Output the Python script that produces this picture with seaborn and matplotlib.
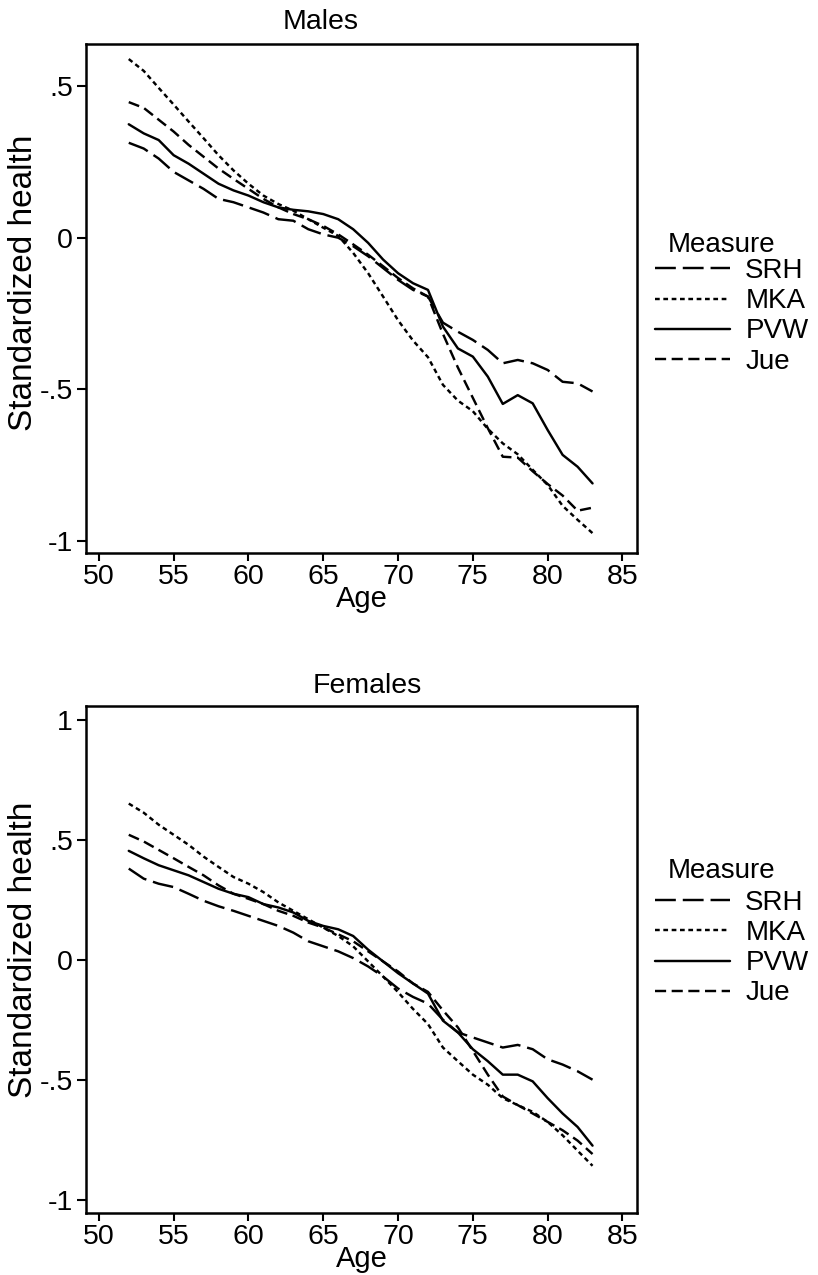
import matplotlib
matplotlib.use("Agg")
import matplotlib.pyplot as plt
import seaborn as sns
import pandas as pd
from matplotlib.lines import Line2D

# ---------------- data ----------------
ages = list(range(52, 84))
measures = ["SRH", "MKA", "PVW", "Jue"]

males_srh = [0.313, 0.294, 0.261, 0.217, 0.189, 0.161, 0.128, 0.117, 0.100, 0.083,
             0.061, 0.056, 0.028, 0.011, 0.000, -0.028, -0.061, -0.100, -0.139, -0.172,
             -0.194, -0.280, -0.310, -0.337, -0.370, -0.414, -0.403, -0.414, -0.436, -0.475,
             -0.480, -0.507]
males_mka = [0.589, 0.550, 0.494, 0.439, 0.383, 0.328, 0.272, 0.222, 0.178, 0.139,
             0.111, 0.089, 0.061, 0.033, 0.006, -0.050, -0.117, -0.194, -0.272, -0.339,
             -0.394, -0.485, -0.537, -0.572, -0.630, -0.678, -0.714, -0.765, -0.815, -0.884,
             -0.930, -0.974]
males_pvw = [0.374, 0.344, 0.322, 0.272, 0.244, 0.211, 0.178, 0.156, 0.139, 0.117,
             0.100, 0.092, 0.087, 0.078, 0.061, 0.028, -0.017, -0.072, -0.117, -0.150,
             -0.172, -0.293, -0.365, -0.392, -0.458, -0.548, -0.519, -0.546, -0.634, -0.716,
             -0.755, -0.810]
males_jue = [0.447, 0.428, 0.389, 0.350, 0.306, 0.267, 0.228, 0.194, 0.161, 0.128,
             0.100, 0.078, 0.061, 0.039, 0.011, -0.022, -0.056, -0.094, -0.133, -0.167,
             -0.194, -0.317, -0.428, -0.528, -0.628, -0.722, -0.725, -0.770, -0.812, -0.850,
             -0.900, -0.890]

females_srh = [0.380, 0.338, 0.317, 0.303, 0.275, 0.246, 0.223, 0.204, 0.183, 0.162,
               0.141, 0.113, 0.077, 0.056, 0.035, 0.007, -0.028, -0.070, -0.120, -0.155,
               -0.183, -0.250, -0.303, -0.324, -0.345, -0.366, -0.355, -0.373, -0.415, -0.437,
               -0.465, -0.500]
females_mka = [0.651, 0.613, 0.563, 0.521, 0.479, 0.430, 0.387, 0.345, 0.317, 0.282,
               0.239, 0.204, 0.169, 0.134, 0.099, 0.056, -0.007, -0.070, -0.135, -0.205,
               -0.268, -0.366, -0.423, -0.479, -0.521, -0.577, -0.606, -0.634, -0.676, -0.732,
               -0.796, -0.859]
females_pvw = [0.454, 0.423, 0.394, 0.373, 0.352, 0.324, 0.296, 0.275, 0.261, 0.232,
               0.218, 0.197, 0.162, 0.141, 0.127, 0.099, 0.042, -0.007, -0.056, -0.099,
               -0.141, -0.254, -0.303, -0.373, -0.423, -0.479, -0.479, -0.507, -0.577, -0.641,
               -0.697, -0.775]
females_jue = [0.521, 0.493, 0.458, 0.423, 0.387, 0.352, 0.310, 0.275, 0.254, 0.232,
               0.204, 0.183, 0.155, 0.134, 0.106, 0.077, 0.035, -0.007, -0.049, -0.099,
               -0.134, -0.211, -0.282, -0.380, -0.479, -0.570, -0.606, -0.641, -0.676, -0.711,
               -0.754, -0.810]

xticks = [50, 55, 60, 65, 70, 75, 80, 85]
xtick_labels = ["50", "55", "60", "65", "70", "75", "80", "85"]
yticks_m = [-1, -0.5, 0, 0.5]
ytick_labels_m = ["-1", "-.5", "0", ".5"]
yticks_f = [-1, -0.5, 0, 0.5, 1]
ytick_labels_f = ["-1", "-.5", "0", ".5", "1"]

# ---------------- style ----------------
sns.set_theme(style="ticks")
plt.rcParams["font.family"] = ["Liberation Sans", "DejaVu Sans"]
plt.rcParams.update({
    "lines.scale_dashes": False,
    "axes.edgecolor": "black",
    "axes.linewidth": 1.8,
    "axes.labelcolor": "black",
    "text.color": "black",
    "xtick.color": "black",
    "ytick.color": "black",
    "xtick.major.width": 1.5,
    "ytick.major.width": 1.5,
    "xtick.major.size": 5.8,
    "ytick.major.size": 6.2,
    "figure.facecolor": "white",
    "axes.facecolor": "white",
})

dash_map = {"SRH": (15, 5), "MKA": (3.4, 2.6), "PVW": "", "Jue": (8, 4)}
LW = 1.75

fig = plt.figure(figsize=(8.18, 12.75), dpi=100)
ax1 = fig.add_axes([0.1051, 0.5659, 0.6736, 0.3992])
ax2 = fig.add_axes([0.1051, 0.0484, 0.6736, 0.3979])


def long_df(srh, mka, pvw, jue):
    rows = []
    for name, vals in zip(measures, [srh, mka, pvw, jue]):
        for a, v in zip(ages, vals):
            rows.append({"Age": a, "Standardized health": v, "Measure": name})
    return pd.DataFrame(rows)


panels = [
    (ax1, long_df(males_srh, males_mka, males_pvw, males_jue), "Males",
     (-1.041, 0.637), yticks_m, ytick_labels_m, 0.4265, 11.0, 0.531, 0.7976, 252),
    (ax2, long_df(females_srh, females_mka, females_pvw, females_jue), "Females",
     (-1.057, 1.058), yticks_f, ytick_labels_f, 0.51, 9.5, 0.519, 0.3020, 878),
]

for ax, df, title, ylim, yt, ytl, tx, tpad, ylab_y, leg_y, title_base in panels:
    sns.lineplot(data=df, x="Age", y="Standardized health", style="Measure",
                 style_order=measures, dashes=dash_map, color="black",
                 linewidth=LW, errorbar=None, legend=False, ax=ax)
    ax.set_xlim(49.14, 85.97)
    ax.set_ylim(*ylim)
    ax.set_xticks(xticks)
    ax.set_xticklabels(xtick_labels)
    ax.set_yticks(yt)
    ax.set_yticklabels(ytl)
    ax.tick_params(axis="x", labelsize=20.5, pad=2)
    ax.tick_params(axis="y", labelsize=20.5, pad=3.3)
    ax.set_xlabel("Age", fontsize=21, labelpad=-3.5)
    ax.set_ylabel("Standardized health", fontsize=24)
    ax.yaxis.set_label_coords(-0.0853, ylab_y)
    ax.set_title(title, fontsize=20.5, pad=tpad, x=tx)
    for s in ax.spines.values():
        s.set_visible(True)
        s.set_linewidth(1.8)

    handles = []
    for m in measures:
        d = dash_map[m]
        if d == "":
            h = Line2D([0], [0], color="black", lw=LW, linestyle="-")
        else:
            h = Line2D([0], [0], color="black", lw=LW, linestyle=(0, d))
        handles.append(h)
    fig.legend(handles, measures, loc="upper left",
               bbox_to_anchor=(0.8007, leg_y), bbox_transform=fig.transFigure,
               frameon=False, fontsize=20,
               handlelength=2.7, handletextpad=0.55, borderpad=0,
               borderaxespad=0, labelspacing=0.15)
    fig.text(668 / 818, 1 - title_base / 1275, "Measure", fontsize=20,
             ha="left", va="baseline")

fig.savefig("out.png", dpi=100, facecolor="white")
